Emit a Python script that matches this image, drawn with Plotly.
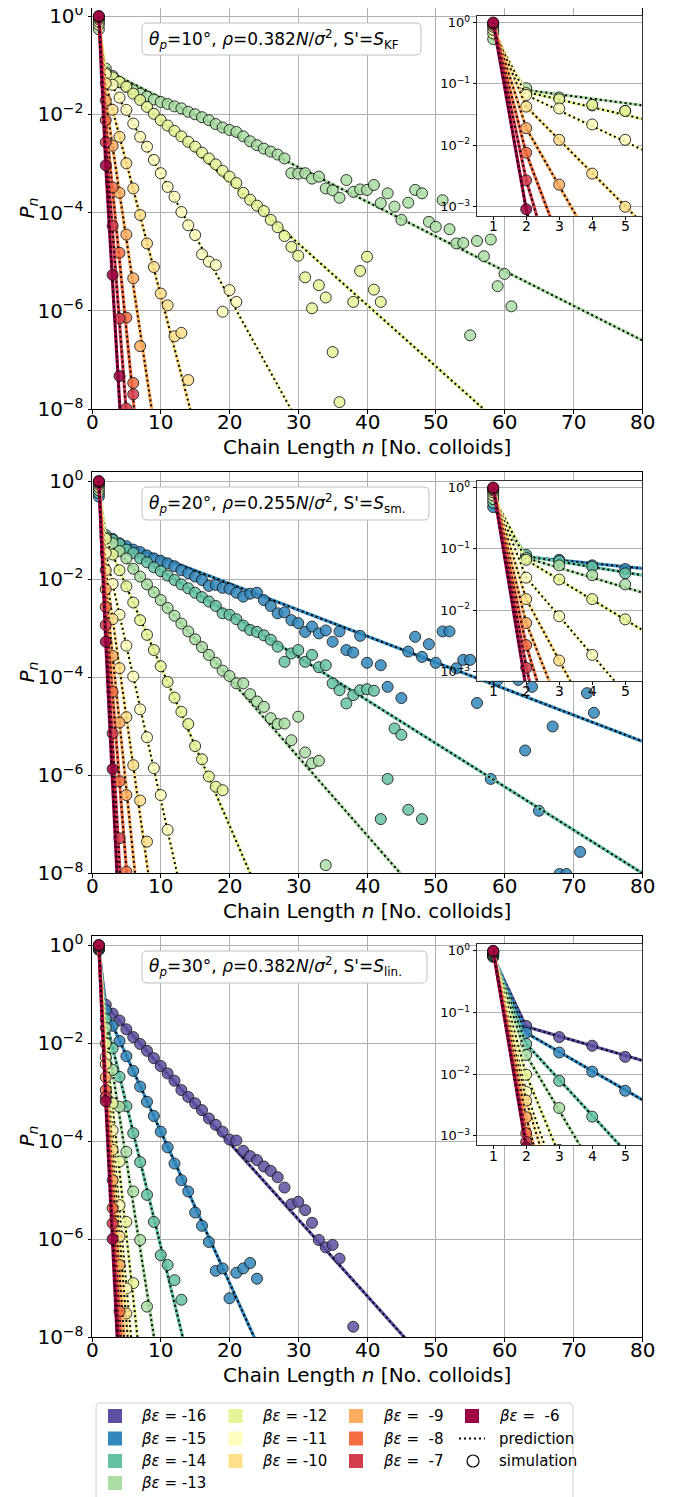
import plotly.graph_objects as go

# The page body has an 8 px margin; the figure is sized and positioned to compensate.
OFF = 8
W, H = 676 - OFF, 1497 - OFF
FONT = "DejaVu Sans"

betas = [-16, -15, -14, -13, -12, -11, -10, -9, -8, -7, -6]
colors = ['#5e4fa2', '#3288bd', '#66c2a5', '#abdda4', '#e6f598', '#ffffbf',
          '#fee08b', '#fdae61', '#f46d43', '#d53e4f', '#9e0142']

panel_labels = [
    "<i>θ</i><sub><i>p</i></sub>=10°, <i>ρ</i>=0.382<i>N</i>/<i>σ</i><sup>2</sup>, S'=<i>S</i><sub>KF</sub>",
    "<i>θ</i><sub><i>p</i></sub>=20°, <i>ρ</i>=0.255<i>N</i>/<i>σ</i><sup>2</sup>, S'=<i>S</i><sub>sm.</sub>",
    "<i>θ</i><sub><i>p</i></sub>=30°, <i>ρ</i>=0.382<i>N</i>/<i>σ</i><sup>2</sup>, S'=<i>S</i><sub>lin.</sub>",
]

main_xticks = [0, 10, 20, 30, 40, 50, 60, 70, 80]
main_yticks_exp = [-8, -6, -4, -2, 0]
inset_xticks = [1, 2, 3, 4, 5]
inset_yticks_exp = [-3, -2, -1, 0]

# ---------------- simulation data: log10(P_n), n = 1, 2, 3, ... ----------------
# panel 1 (theta=10)
p1_sim_m13 = [-0.27, -1.07, -1.22, -1.35, -1.44, -1.51, -1.58, -1.64, -1.70, -1.75,
              -1.79, -1.84, -1.88, -1.95, -2.00, -2.06, -2.12, -2.20, -2.27, -2.32,
              -2.36, -2.45, -2.55, -2.63, -2.70, -2.76, -2.82, -2.90, -3.20, -3.21,
              -3.20, -3.31, -3.27, -3.51, -3.55, -3.70, -3.34, -3.58, -3.53, -3.54,
              -3.44, -3.81, -3.61, -3.88, -4.15, -3.80, -3.54, -3.61, -4.19, -4.29,
              -3.75, -4.34, -4.63, -4.62, -6.50, -4.58, -4.89, -4.55, -5.50, -5.25, -5.91]
p1_sim_m12 = [-0.18, -1.15, -1.25, -1.34, -1.44, -1.58, -1.71, -1.85, -1.99, -2.12,
              -2.23, -2.34, -2.45, -2.56, -2.66, -2.78, -2.90, -3.02, -3.15, -3.27,
              -3.40, -3.60, -3.74, -3.86, -3.97, -4.15, -4.30, -4.48, -4.70, -4.88,
              -5.32, -5.95, -5.48, -5.73, -6.84, -7.86, None, -5.82, -5.19, -4.90, -5.57, -5.82]
p1_sim_m11 = [-0.12, -1.18, -1.40, -1.66, -1.91, -2.19, -2.46, -2.66, -2.93, -3.20,
              -3.48, -3.68, -3.99, -4.26, -4.46, -4.85, -5.00, -5.07, -6.02, -5.58, -5.82]
p1_sim_m10 = [-0.07, -1.37, -1.91, -2.46, -3.00, -3.51, -4.05, -4.63, -5.11, -5.65,
              -5.89, -6.52, -6.45, -7.41]
p1_sim_m9 = [-0.04, -1.72, -2.64, -3.60, -4.45, -5.34, -6.72]
p1_sim_m8 = [-0.02, -2.12, -3.49, -4.82, -6.14, -7.47]
p1_sim_m7 = [-0.01, -2.57, -4.27, -6.16, -7.99, -7.70]
p1_sim_m6 = [0.0, -3.04, -5.27, -7.33]

# panel 2 (theta=20)
p2_sim_m15 = [-0.32, -1.13, -1.18, -1.27, -1.33, -1.40, -1.45, -1.52, -1.58, -1.63,
              -1.68, -1.74, -1.82, -1.88, -1.95, -2.02, -2.14, -2.12, -2.18, -2.20,
              -2.28, -2.36, -2.30, -2.28, -2.43, -2.55, -2.70, -2.68, -2.84, -2.90,
              -3.08, -2.97, -3.11, -3.05, -3.28, -3.07, -3.45, -3.50, -3.16, -3.71,
              None, -3.76, -4.20, None, -4.43, -3.48, -3.18, -3.59, -3.33, -3.71,
              -3.07, -3.07, -3.82, -3.65, -3.65, -4.53, None, -6.08, -4.06, None,
              None, -4.06, -5.50, -4.20, -6.73, None, -5.01, -8.02, -8.02, None,
              -7.57, -4.33, -4.73]
p2_sim_m14 = [-0.25, -1.10, -1.20, -1.29, -1.40, -1.47, -1.58, -1.66, -1.76, -1.84,
              -1.93, -2.02, -2.11, -2.19, -2.28, -2.37, -2.46, -2.55, -2.70, -2.73,
              -2.82, -2.95, -3.04, -3.08, -3.15, -3.24, -3.38, -3.69, -3.52, -3.45,
              -3.69, -3.55, -3.80, -3.76, -4.13, -4.27, -4.54, -4.37, -4.27, -4.25,
              -4.28, -6.90, -6.08, -5.05, -5.18, -6.71, None, -6.90]
p2_sim_m13 = [-0.19, -1.15, -1.27, -1.43, -1.58, -1.79, -1.95, -2.11, -2.27, -2.43,
              -2.59, -2.75, -2.91, -3.07, -3.23, -3.39, -3.55, -3.71, -3.87, -3.98,
              -4.13, -4.13, -4.35, -4.50, -4.61, -4.84, -4.96, -4.95, -5.29, -4.81,
              -5.54, -5.76, -5.71, -7.84]
p2_sim_m12 = [-0.13, -1.18, -1.50, -1.82, -2.15, -2.48, -2.84, -3.14, -3.45, -3.78,
              -4.10, -4.42, -4.71, -4.96, -5.41, -5.68, -6.03, -6.24, -6.31]
p2_sim_m11 = [-0.08, -1.47, -2.10, -2.73, -3.36, -3.99, -4.66, -5.23, -5.86, -6.41, -7.12]
p2_sim_m10 = [-0.05, -1.82, -2.82, -3.82, -4.82, -5.80, -6.52, -7.36]
p2_sim_m9 = [-0.03, -2.21, -3.57, -4.93, -6.41]
p2_sim_m8 = [-0.02, -2.57, -4.30, -6.13, -7.97]
p2_sim_m7 = [-0.01, -2.94, -5.15, -7.29]
p2_sim_m6 = [0.0, -3.28, -5.88]

# panel 3 (theta=30)
p3_sim_m16 = [-0.10, -1.22, -1.40, -1.54, -1.72, -1.88, -2.02, -2.16, -2.31, -2.47,
              -2.62, -2.77, -2.96, -3.10, -3.23, -3.37, -3.54, -3.67, -3.81, -3.97,
              -3.99, -4.20, -4.31, -4.39, -4.52, -4.61, -4.74, -4.95, -5.29, -5.24,
              -5.41, -5.67, -6.02, -6.17, -6.12, -6.40, None, -7.79]
p3_sim_m15 = [-0.09, -1.33, -1.65, -1.96, -2.27, -2.57, -2.89, -3.20, -3.49, -3.81,
              -4.13, -4.46, -4.80, -5.03, -5.46, -5.73, -6.06, -6.65, -6.60, -7.21,
              -6.69, -6.60, -6.49, -6.81]
p3_sim_m14 = [-0.07, -1.51, -2.11, -2.69, -3.29, -3.84, -4.43, -5.10, -5.65, -6.33,
              -6.53, -6.84, -7.24]
p3_sim_m13 = [-0.06, -1.69, -2.55, -3.30, -4.22, -5.03, -6.02, -7.38]
p3_sim_m12 = [-0.04, -2.01, -3.23, -4.42, -5.65, -6.90]
p3_sim_m11 = [-0.03, -2.29, -3.78, -5.31, -7.01]
p3_sim_m10 = [-0.02, -2.43, -4.18, -5.95, -7.52]
p3_sim_m9 = [-0.015, -2.70, -4.80, -6.53]
p3_sim_m8 = [-0.01, -2.96, -5.37, -7.48]
p3_sim_m7 = [-0.005, -3.10, -5.68]
p3_sim_m6 = [0.0, -3.19, -6.00]

# ---------------- prediction data: (n values, log10 P_n) ----------------
p1_pred_n = {-13: [1, 2, 80], -12: [1, 2, 62], -11: [1, 2, 32], -10: [1, 2, 16],
             -9: [1, 2, 10], -8: [1, 2, 7], -7: [1, 2, 6], -6: [1, 2, 5]}
p1_pred_p = {-13: [-0.27, -1.10, -6.60], -12: [-0.18, -1.13, -8.63],
             -11: [-0.12, -1.18, -8.78], -10: [-0.07, -1.37, -8.93],
             -9: [-0.04, -1.72, -9.24], -8: [-0.02, -2.13, -9.23],
             -7: [-0.01, -2.56, -9.92], -6: [0.0, -3.04, -10.24]}

p2_pred_n = {-15: [1, 2, 80], -14: [1, 2, 80], -13: [1, 2, 46], -12: [1, 2, 24],
             -11: [1, 2, 13], -10: [1, 2, 9], -9: [1, 2, 7], -8: [1, 2, 6],
             -7: [1, 2, 5], -6: [1, 2, 4]}
p2_pred_p = {-15: [-0.32, -1.13, -5.31], -14: [-0.25, -1.12, -8.00],
             -13: [-0.19, -1.15, -8.19], -12: [-0.13, -1.18, -8.33],
             -11: [-0.08, -1.47, -8.40], -10: [-0.05, -1.82, -8.82],
             -9: [-0.03, -2.21, -9.01], -8: [-0.02, -2.57, -9.69],
             -7: [-0.01, -2.92, -10.27], -6: [0.0, -3.28, -9.08]}

p3_pred_n = {-16: [1, 2, 47], -15: [1, 2, 25], -14: [1, 2, 14], -13: [1, 2, 11],
             -12: [1, 2, 9], -11: [1, 2, 7], -10: [1, 2, 6], -9: [1, 2, 6],
             -8: [1, 2, 5], -7: [1, 2, 5], -6: [1, 2, 4]}
p3_pred_p = {-16: [-0.10, -1.23, -8.25], -15: [-0.09, -1.33, -8.44],
             -14: [-0.07, -1.51, -8.47], -13: [-0.06, -1.69, -9.79],
             -12: [-0.04, -2.01, -11.11], -11: [-0.03, -2.29, -10.04],
             -10: [-0.02, -2.43, -9.43], -9: [-0.015, -2.70, -10.70],
             -8: [-0.01, -2.96, -9.86], -7: [-0.005, -3.10, -10.90],
             -6: [0.0, -3.19, -9.00]}

p1_sims = {-13: p1_sim_m13, -12: p1_sim_m12, -11: p1_sim_m11, -10: p1_sim_m10,
           -9: p1_sim_m9, -8: p1_sim_m8, -7: p1_sim_m7, -6: p1_sim_m6}
p2_sims = {-15: p2_sim_m15, -14: p2_sim_m14, -13: p2_sim_m13, -12: p2_sim_m12,
           -11: p2_sim_m11, -10: p2_sim_m10, -9: p2_sim_m9, -8: p2_sim_m8,
           -7: p2_sim_m7, -6: p2_sim_m6}
p3_sims = {-16: p3_sim_m16, -15: p3_sim_m15, -14: p3_sim_m14, -13: p3_sim_m13,
           -12: p3_sim_m12, -11: p3_sim_m11, -10: p3_sim_m10, -9: p3_sim_m9,
           -8: p3_sim_m8, -7: p3_sim_m7, -6: p3_sim_m6}

panels = [(p1_sims, p1_pred_n, p1_pred_p), (p2_sims, p2_pred_n, p2_pred_p),
          (p3_sims, p3_pred_n, p3_pred_p)]

# ---------------- layout geometry (window pixels) ----------------
main_x = (92, 642)
main_y = [(8, 409), (472, 873), (936, 1337)]   # top, bottom (bottom = 1e-8)
main_zero = [16, 481, 945]                      # pixel row of 1e0
inset_x = (476.7, 641.7)
inset_y = [(16, 216), (481, 680.7), (944.3, 1145)]
box_px = [(142, 23, 421, 55), (142, 487, 429, 520), (142, 951, 427, 983)]


def X(px):
    return min(1.0, max(0.0, (px - OFF) / W))


def Y(py):
    return min(1.0, max(0.0, 1 - (py - OFF) / H))


def Xr(px):
    return (px - OFF) / W


def Yr(py):
    return 1 - (py - OFF) / H


def lin(v):
    return [None if a is None else 10 ** a for a in v]


def axid(k, letter):
    return letter if k == 0 else f"{letter}{k+1}"


fig = go.Figure()

for k, (sims, pn, pp) in enumerate(panels):
    for xa, ya in [(axid(k, "x"), axid(k, "y")), (f"x{k+4}", f"y{k+4}")]:
        for b, c in zip(betas, colors):
            if b not in sims:
                continue
            fig.add_trace(go.Scatter(x=pn[b], y=lin(pp[b]), mode="lines",
                                     line=dict(color=c, width=3.2),
                                     xaxis=xa, yaxis=ya, showlegend=False, hoverinfo="skip"))
            fig.add_trace(go.Scatter(x=pn[b], y=lin(pp[b]), mode="lines",
                                     line=dict(color="black", width=2, dash="2px,3px"),
                                     xaxis=xa, yaxis=ya, showlegend=False, hoverinfo="skip"))
            s = sims[b]
            fig.add_trace(go.Scatter(x=list(range(1, len(s) + 1)), y=lin(s), mode="markers",
                                     marker=dict(size=11, color=c, opacity=0.85,
                                                 line=dict(width=1, color="#111111")),
                                     xaxis=xa, yaxis=ya, showlegend=False))


def sup(e):
    return "10<sup>" + (str(e) if e >= 0 else "\u2212" + str(-e)) + "</sup>"


axis_common = dict(showline=True, mirror=True, linecolor="black", linewidth=1,
                   ticks="outside", ticklen=3.5, tickwidth=1, tickcolor="black",
                   zeroline=False, automargin=False, ticklabeloverflow="allow")
layout = dict(width=W, height=H, margin=dict(l=0, r=0, t=0, b=0, autoexpand=False),
              paper_bgcolor="white", plot_bgcolor="white",
              font=dict(family=FONT, color="black"), showlegend=False)

annotations = []
for k in range(3):
    xn = "xaxis" if k == 0 else f"xaxis{k+1}"
    yn = "yaxis" if k == 0 else f"yaxis{k+1}"
    y0, y1 = main_y[k]
    decade = (y1 - main_zero[k]) / 8.0
    ytop = (main_zero[k] - y0) / decade
    layout[xn] = dict(axis_common, domain=[X(main_x[0]), X(main_x[1])], anchor=axid(k, "y"),
                      range=[0, 80], tickvals=main_xticks, showticklabels=False,
                      showgrid=True, gridcolor="#b0b0b0", gridwidth=1)
    layout[yn] = dict(axis_common, domain=[Y(y1), Y(y0)], anchor=axid(k, "x"), type="log",
                      range=[-8, ytop], tickvals=[10 ** e for e in main_yticks_exp],
                      ticktext=[sup(e) for e in main_yticks_exp],
                      showgrid=True, gridcolor="#b0b0b0", gridwidth=1,
                      tickfont=dict(size=20, family=FONT, color="black"))
    for t in main_xticks:
        annotations.append(dict(text=str(t), x=t, xref=axid(k, "x"), y=Yr(y1 + 12.7), yref="paper",
                                xanchor="center", yanchor="middle", showarrow=False,
                                font=dict(size=20, family=FONT, color="black")))
    xn2 = f"xaxis{k+4}"
    yn2 = f"yaxis{k+4}"
    iy0, iy1 = inset_y[k]
    layout[xn2] = dict(axis_common, domain=[X(inset_x[0]), X(inset_x[1])], anchor=f"y{k+4}",
                       range=[0.5, 5.5], tickvals=inset_xticks, showgrid=False,
                       showticklabels=False, linecolor="#333333", ticklen=3)
    layout[yn2] = dict(axis_common, domain=[Y(iy1), Y(iy0)], anchor=f"x{k+4}", type="log",
                       range=[-3.15, 0.105], tickvals=[10 ** e for e in inset_yticks_exp],
                       ticktext=[sup(e) for e in inset_yticks_exp],
                       showgrid=True, gridcolor="#b0b0b0", gridwidth=1,
                       linecolor="#333333", ticklen=3,
                       tickfont=dict(size=13, family=FONT, color="black"))
    for t in inset_xticks:
        annotations.append(dict(text=str(t), x=t, xref=f"x{k+4}", y=Yr(iy1 + 10.5), yref="paper",
                                xanchor="center", yanchor="middle", showarrow=False,
                                font=dict(size=14, family=FONT, color="black")))


def rrect(x0, y0, x1, y1, r):
    return (f"M {Xr(x0+r)},{Yr(y0)} L {Xr(x1-r)},{Yr(y0)} Q {Xr(x1)},{Yr(y0)} {Xr(x1)},{Yr(y0+r)} "
            f"L {Xr(x1)},{Yr(y1-r)} Q {Xr(x1)},{Yr(y1)} {Xr(x1-r)},{Yr(y1)} "
            f"L {Xr(x0+r)},{Yr(y1)} Q {Xr(x0)},{Yr(y1)} {Xr(x0)},{Yr(y1-r)} "
            f"L {Xr(x0)},{Yr(y0+r)} Q {Xr(x0)},{Yr(y0)} {Xr(x0+r)},{Yr(y0)} Z")


shapes = []
for k in range(3):
    bx0, by0, bx1, by1 = box_px[k]
    shapes.append(dict(type="path", path=rrect(bx0, by0, bx1, by1, 5), xref="paper", yref="paper",
                       line=dict(color="#c0c0c0", width=1), fillcolor="white", layer="above"))
    annotations.append(dict(text=panel_labels[k], x=Xr(bx0 + 5), y=Yr((by0 + by1) / 2),
                            xref="paper", yref="paper", xanchor="left", yanchor="middle",
                            showarrow=False, font=dict(size=17, family=FONT, color="black")))
    y0, y1 = main_y[k]
    annotations.append(dict(text="Chain Length <i>n</i> [No. colloids]", x=Xr(367), y=Yr(y1 + 38),
                            xref="paper", yref="paper", xanchor="center", yanchor="middle",
                            showarrow=False, font=dict(size=20, family=FONT, color="black")))
    annotations.append(dict(text="<i>P</i><sub><i>n</i></sub>", x=Xr(27), y=Yr((y0 + y1) / 2),
                            xref="paper", yref="paper", xanchor="center", yanchor="middle",
                            textangle=-90, showarrow=False,
                            font=dict(size=20, family=FONT, color="black")))

# ---------------- legend (drawn manually, column-major like the reference) ----------------
shapes.append(dict(type="path", path=rrect(96, 1403, 573, 1520, 4), xref="paper", yref="paper",
                   line=dict(color="#d0d0d0", width=1), fillcolor="white", layer="above"))
col_sq = [115, 235.5, 356, 472]
col_tx = [139, 260, 381, 497]
row_y = [1416, 1438.5, 1461, 1483]
legend_cols = [[-16, -15, -14, -13], [-12, -11, -10], [-9, -8, -7], [-6]]
for ci, col in enumerate(legend_cols):
    for ri, b in enumerate(col):
        c = colors[betas.index(b)]
        cx, cy = col_sq[ci], row_y[ri]
        shapes.append(dict(type="rect", xref="paper", yref="paper",
                           x0=Xr(cx - 7), x1=Xr(cx + 7), y0=Yr(cy + 7), y1=Yr(cy - 7),
                           fillcolor=c, line=dict(width=0), layer="above"))
        lbl = f"<i>βε</i> = {b}" if b <= -10 else f"<i>βε</i> =\u00a0 {b}"
        annotations.append(dict(text=lbl, x=Xr(col_tx[ci]), y=Yr(cy), xref="paper", yref="paper",
                                xanchor="left", yanchor="middle", showarrow=False,
                                font=dict(size=15, family=FONT, color="black")))
shapes.append(dict(type="line", xref="paper", yref="paper", x0=Xr(459), x1=Xr(485),
                   y0=Yr(row_y[1]), y1=Yr(row_y[1]),
                   line=dict(color="black", width=2, dash="2px,3px"), layer="above"))
annotations.append(dict(text="prediction", x=Xr(col_tx[3]), y=Yr(row_y[1]), xref="paper", yref="paper",
                        xanchor="left", yanchor="middle", showarrow=False,
                        font=dict(size=15, family=FONT, color="black")))
shapes.append(dict(type="circle", xref="paper", yref="paper", x0=Xr(467), x1=Xr(479),
                   y0=Yr(row_y[2] + 6), y1=Yr(row_y[2] - 6),
                   line=dict(color="black", width=1.2), fillcolor="white", layer="above"))
annotations.append(dict(text="simulation", x=Xr(col_tx[3]), y=Yr(row_y[2]), xref="paper", yref="paper",
                        xanchor="left", yanchor="middle", showarrow=False,
                        font=dict(size=15, family=FONT, color="black")))

layout["shapes"] = shapes
layout["annotations"] = annotations
fig.update_layout(**layout)
fig.write_html("out.html")
